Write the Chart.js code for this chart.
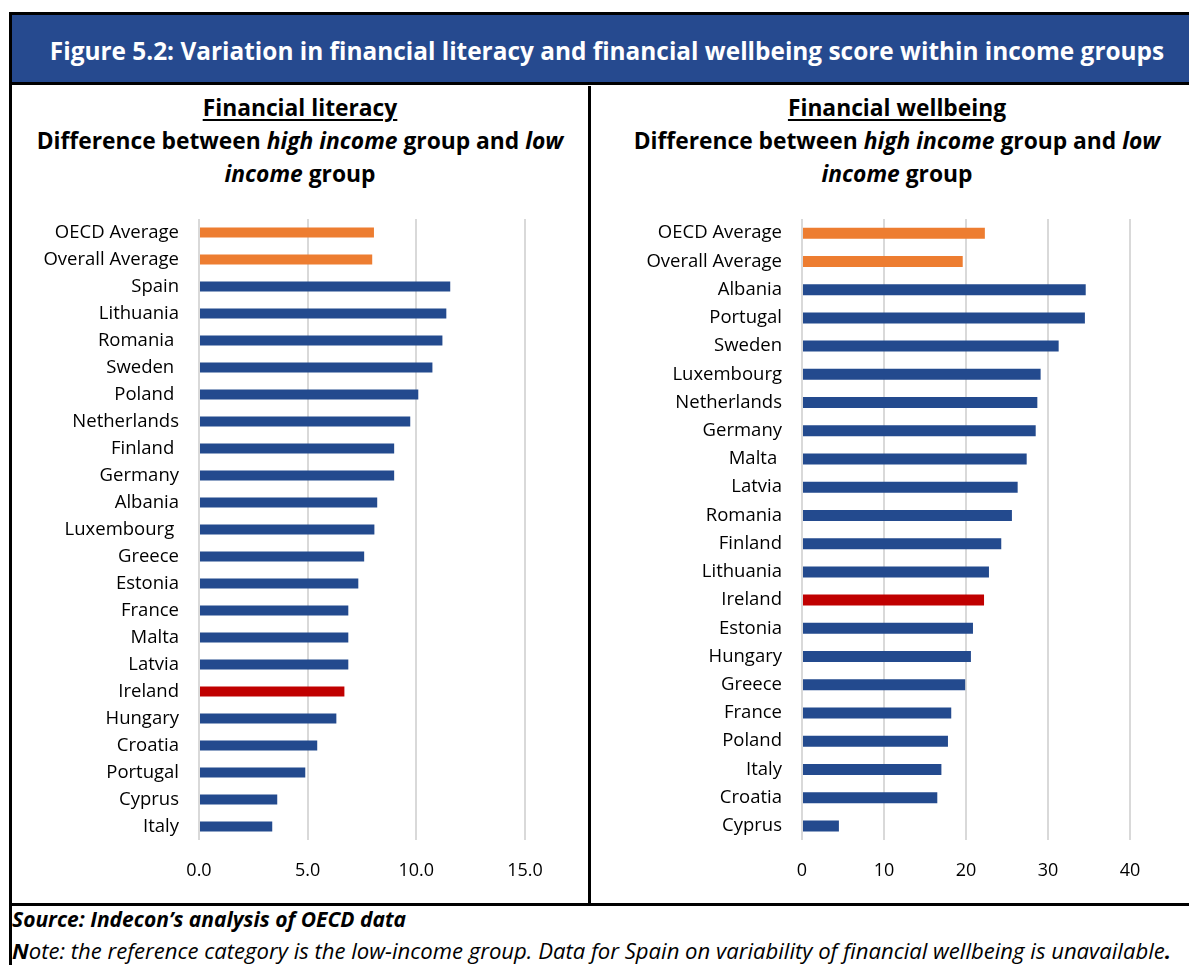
<!DOCTYPE html>
<html>
<head>
<meta charset="utf-8">
<script src="https://cdn.jsdelivr.net/npm/chart.js@4.4.1/dist/chart.umd.min.js"></script>
<style>
  html, body { margin: 0; padding: 0; background: #fff; overflow: hidden; }
  body { width: 1189px; height: 965px; position: relative; font-family: 'Open Sans', sans-serif; color: #000; }
  .frame { position: absolute; left: 9px; top: 12px; width: 1200px; height: 1000px; border: 3px solid #000; box-sizing: border-box; }
  .banner { position: absolute; left: 12px; top: 15px; width: 1190px; height: 70px; background: #264a8f; border-bottom: 3px solid #000;
            color: #fff; font-weight: 700; font-size: 24.4px; line-height: 72px; text-align: center; box-sizing: border-box; white-space: nowrap; }
  .divider { position: absolute; left: 588px; top: 86px; width: 3px; height: 818px; background: #000; }
  .rule { position: absolute; left: 9px; top: 903px; width: 1200px; height: 3px; background: #000; }
  .head { position: absolute; top: 91px; text-align: center; font-weight: 700; font-size: 22.8px; line-height: 33px; white-space: nowrap; }
  .head u { text-underline-offset: 3px; }
  .panel { position: absolute; top: 188px; height: 712px; }
  .foot { position: absolute; left: 12px; font-style: italic; line-height: 24px; white-space: nowrap; }
</style>
</head>
<body>
<div class="frame"></div>
<div class="banner">Figure 5.2: Variation in financial literacy and financial wellbeing score within income groups</div>
<div class="divider"></div>
<div class="rule"></div>

<div class="head" style="left:12px; width:576px;">
  <u>Financial literacy</u><br>
  Difference between <i>high income</i> group and <i>low</i><br>
  <i>income</i> group
</div>
<div class="head" style="left:593px; width:608px;">
  <u>Financial wellbeing</u><br>
  Difference between <i>high income</i> group and <i>low</i><br>
  <i>income</i> group
</div>

<div class="panel" style="left:12px; width:576px;"><canvas id="litChart"></canvas></div>
<div class="panel" style="left:593px; width:590px;"><canvas id="wellChart"></canvas></div>

<div class="foot" style="top:907px; font-size:21px; font-weight:700;">Source: Indecon’s analysis of OECD data</div>
<div class="foot" style="top:938px; font-size:22.1px;"><b>N</b>ote: the reference category is the low-income group. Data for Spain on variability of financial wellbeing is unavailable<b>.</b></div>

<script>
// Financial literacy: high income minus low income
const litCountries = ['OECD Average', 'Overall Average', 'Spain', 'Lithuania', 'Romania ', 'Sweden ', 'Poland ',
  'Netherlands', 'Finland ', 'Germany', 'Albania', 'Luxembourg ', 'Greece', 'Estonia', 'France', 'Malta',
  'Latvia', 'Ireland', 'Hungary', 'Croatia', 'Portugal', 'Cyprus', 'Italy'];
const litValues = [8.05, 7.97, 11.56, 11.38, 11.2, 10.74, 10.09, 9.72, 8.98, 8.98, 8.2, 8.07,
  7.6, 7.33, 6.87, 6.87, 6.87, 6.69, 6.32, 5.44, 4.89, 3.6, 3.37];
const litTicks = [0, 5, 10, 15];

// Financial wellbeing: high income minus low income (no data for Spain)
const wellCountries = ['OECD Average', 'Overall Average', 'Albania', 'Portugal', 'Sweden', 'Luxembourg',
  'Netherlands', 'Germany', 'Malta ', 'Latvia', 'Romania', 'Finland', 'Lithuania', 'Ireland', 'Estonia',
  'Hungary', 'Greece', 'France', 'Poland', 'Italy', 'Croatia', 'Cyprus'];
const wellValues = [22.3, 19.6, 34.6, 34.5, 31.3, 29.1, 28.7, 28.5, 27.4, 26.3, 25.6, 24.3,
  22.8, 22.2, 20.85, 20.6, 19.9, 18.2, 17.8, 17.0, 16.5, 4.5];
const wellTicks = [0, 10, 20, 30, 40];

const BLUE = '#234a8e', ORANGE = '#ed7d31', RED = '#c00000';
const FONT = "'Open Sans', sans-serif";

function barColour(label) {
  const l = label.trim();
  if (l.endsWith('Average')) return ORANGE;
  if (l === 'Ireland') return RED;
  return BLUE;
}

function hbar(id, labels, values, ticks, fmt, opts) {
  const ctx = document.getElementById(id).getContext('2d');
  return new Chart(ctx, {
    type: 'bar',
    data: {
      labels,
      datasets: [{
        data: values,
        backgroundColor: labels.map(barColour),
        barPercentage: opts.barPct,
        categoryPercentage: 1
      }]
    },
    options: {
      indexAxis: 'y',
      responsive: true,
      maintainAspectRatio: false,
      animation: false,
      layout: { padding: { top: 0, right: opts.padRight, left: 0, bottom: 0 } },
      plugins: { legend: { display: false }, tooltip: { enabled: false } },
      scales: {
        x: {
          min: ticks[0], max: ticks[ticks.length - 1],
          afterBuildTicks: s => { s.ticks = ticks.map(v => ({ value: v })); },
          afterFit: s => { s.height = 60; },
          grid: { color: '#d9d9d9', lineWidth: 2, drawTicks: false },
          border: { display: false },
          ticks: { color: '#000', padding: 20, font: { family: FONT, size: 18 }, callback: v => fmt(v), maxRotation: 0 }
        },
        y: {
          afterFit: s => { s.width = opts.axisWidth; },
          grid: { display: false, drawTicks: false },
          border: { display: false },
          ticks: { color: '#000', padding: 20, autoSkip: false, font: { family: FONT, size: 18.5 } }
        }
      }
    }
  });
}

hbar('litChart', litCountries, litValues, litTicks, v => v.toFixed(1), { axisWidth: 187, padRight: 63, barPct: 0.37 });
hbar('wellChart', wellCountries, wellValues, wellTicks, v => String(v), { axisWidth: 209, padRight: 53, barPct: 0.39 });
</script>
</body>
</html>
